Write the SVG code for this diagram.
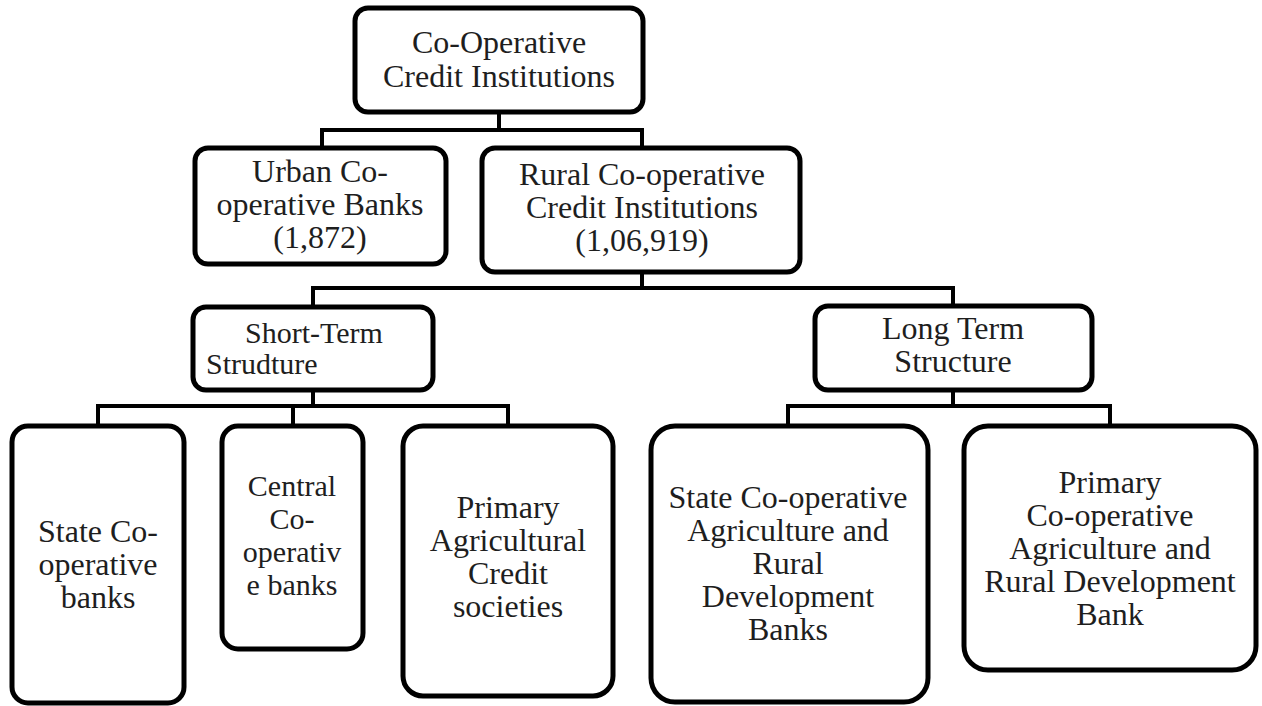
<svg xmlns="http://www.w3.org/2000/svg" width="1262" height="706" viewBox="0 0 1262 706">
<style>
.box{fill:#fff;stroke:#000;stroke-width:5}
.c{fill:none;stroke:#000;stroke-width:4}
text{font-family:"Liberation Serif","Times New Roman",serif;font-size:32px;fill:#1e1e1e;text-anchor:middle}
.s{font-size:30px}
</style>
<rect width="1262" height="706" fill="#fff"/>
<g id="connectors">
<path class="c" d="M499,112 V130 M322,150 V130 H642 V150"/>
<path class="c" d="M642,272 V288 M313,307 V288 H953 V307"/>
<path class="c" d="M313,390 V406 M98,426 V406 H508 V426 M293,406 V426"/>
<path class="c" d="M953,390 V406 M788,426 V406 H1110 V426"/>
</g>
<g id="n-root"><rect class="box" x="355" y="8" width="288" height="104" rx="13"/>
<text x="499" y="53">Co-Operative<tspan x="499" dy="34">Credit Institutions</tspan></text></g>
<g id="n-urban"><rect class="box" x="195" y="148" width="251" height="116" rx="13"/>
<text x="320" y="182">Urban Co-<tspan x="320" dy="33">operative Banks</tspan><tspan x="320" dy="33">(1,872)</tspan></text></g>
<g id="n-rural"><rect class="box" x="482" y="148" width="318" height="124" rx="13"/>
<text x="642" y="185">Rural Co-operative<tspan x="642" dy="33">Credit Institutions</tspan><tspan x="642" dy="33">(1,06,919)</tspan></text></g>
<g id="n-short"><rect class="box" x="193" y="307" width="240" height="83" rx="13"/>
<text class="s" x="314" y="343">Short-Term<tspan x="206" dy="31" style="text-anchor:start">Strudture</tspan></text></g>
<g id="n-long"><rect class="box" x="815" y="306" width="277" height="84" rx="13"/>
<text x="953" y="339">Long Term<tspan x="953" dy="33">Structure</tspan></text></g>
<g id="n-scb"><rect class="box" x="12" y="426" width="172" height="277" rx="16"/>
<text x="98" y="542">State Co-<tspan x="98" dy="33">operative</tspan><tspan x="98" dy="33">banks</tspan></text></g>
<g id="n-ccb"><rect class="box" x="222" y="426" width="141" height="223" rx="16"/>
<text class="s" x="292" y="496">Central<tspan x="292" dy="33">Co-</tspan><tspan x="292" dy="33">operativ</tspan><tspan x="292" dy="33">e banks</tspan></text></g>
<g id="n-pacs"><rect class="box" x="403" y="426" width="210" height="270" rx="20"/>
<text x="508" y="518">Primary<tspan x="508" dy="33">Agricultural</tspan><tspan x="508" dy="33">Credit</tspan><tspan x="508" dy="33">societies</tspan></text></g>
<g id="n-scardb"><rect class="box" x="651" y="426" width="277" height="276" rx="24"/>
<text x="788" y="508">State Co-operative<tspan x="788" dy="33">Agriculture and</tspan><tspan x="788" dy="33">Rural</tspan><tspan x="788" dy="33">Development</tspan><tspan x="788" dy="33">Banks</tspan></text></g>
<g id="n-pcardb"><rect class="box" x="964" y="426" width="292" height="244" rx="24"/>
<text x="1110" y="493">Primary<tspan x="1110" dy="33">Co-operative</tspan><tspan x="1110" dy="33">Agriculture and</tspan><tspan x="1110" dy="33">Rural Development</tspan><tspan x="1110" dy="33">Bank</tspan></text></g>
</svg>
